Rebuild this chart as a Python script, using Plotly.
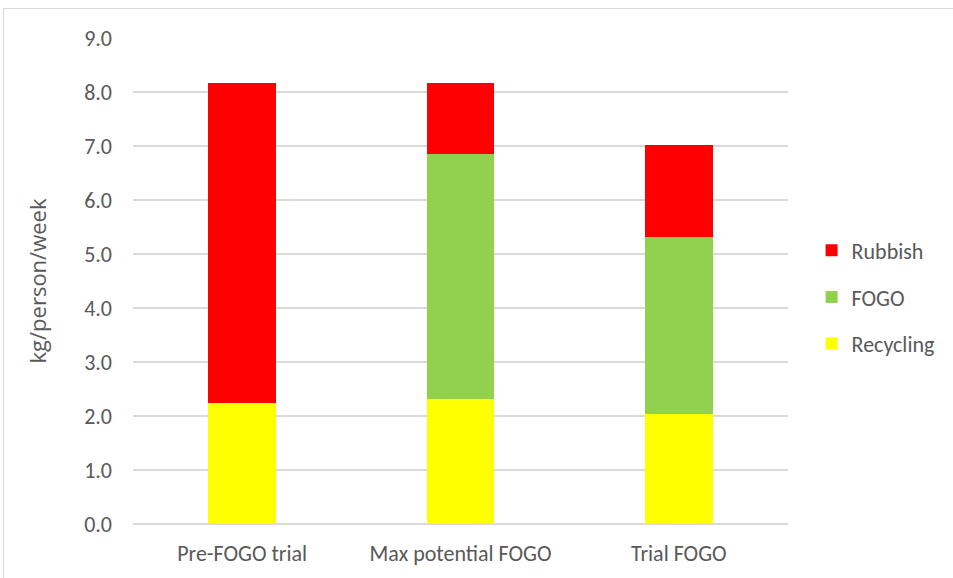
import plotly.graph_objects as go

# Weekly waste generation per person, by stream
categories = ["Pre-FOGO trial", "Max potential FOGO", "Trial FOGO"]
recycling = [2.24, 2.31, 2.03]
fogo = [0.0, 4.55, 3.29]
rubbish = [5.93, 1.31, 1.69]
y_ticks = [0, 1, 2, 3, 4, 5, 6, 7, 8, 9]
y_tick_labels = ["0.0", "1.0", "2.0", "3.0", "4.0", "5.0", "6.0", "7.0", "8.0", "9.0"]

tick_font = dict(family="Carlito, Lato, sans-serif", size=22, color="#595959")

# (name, values, colour, legend rank)
series = [
    ("Recycling", recycling, "#FFFF00", 3),
    ("FOGO", fogo, "#92D050", 2),
    ("Rubbish", rubbish, "#FF0000", 1),
]

fig = go.Figure()
for name, vals, col, rank in series:
    fig.add_trace(go.Bar(
        x=categories, y=vals, name=name, legendgroup=name, legendrank=rank,
        marker=dict(color=col, line=dict(width=0)),
    ))

fig.update_layout(
    barmode="stack",
    bargap=0.69,
    width=953, height=578,
    margin=dict(l=133, r=165, t=38, b=54, autoexpand=False),
    paper_bgcolor="white", plot_bgcolor="white",
    font=tick_font,
    showlegend=True,
    legend=dict(
        traceorder="grouped", tracegroupgap=15,
        x=1.036, xanchor="left", y=0.467, yanchor="middle",
        font=tick_font, itemwidth=30,
    ),
    xaxis=dict(showline=False, ticks="", tickfont=tick_font, showgrid=False,
               ticklabelstandoff=14),
    yaxis=dict(
        range=[0, 9], tickvals=y_ticks, ticktext=y_tick_labels,
        showgrid=True, gridcolor="#D9D9D9", gridwidth=2,
        zeroline=True, zerolinecolor="#D9D9D9", zerolinewidth=2,
        showline=False, ticks="", tickfont=tick_font, ticklabelstandoff=20,
        title=dict(text="kg/person/week",
                   font=dict(family="'Open Sans', sans-serif", size=22, color="#595959"),
                   standoff=31),
    ),
    shapes=[dict(
        type="rect", xref="paper", yref="paper",
        x0=(3.5 - 133) / 655, x1=(960 - 133) / 655,
        y0=(524 - 590) / 486, y1=(524 - 8.5) / 486,
        line=dict(color="#D9D9D9", width=1), fillcolor="rgba(0,0,0,0)", layer="below",
    )],
)

fig.write_html("out.html")
